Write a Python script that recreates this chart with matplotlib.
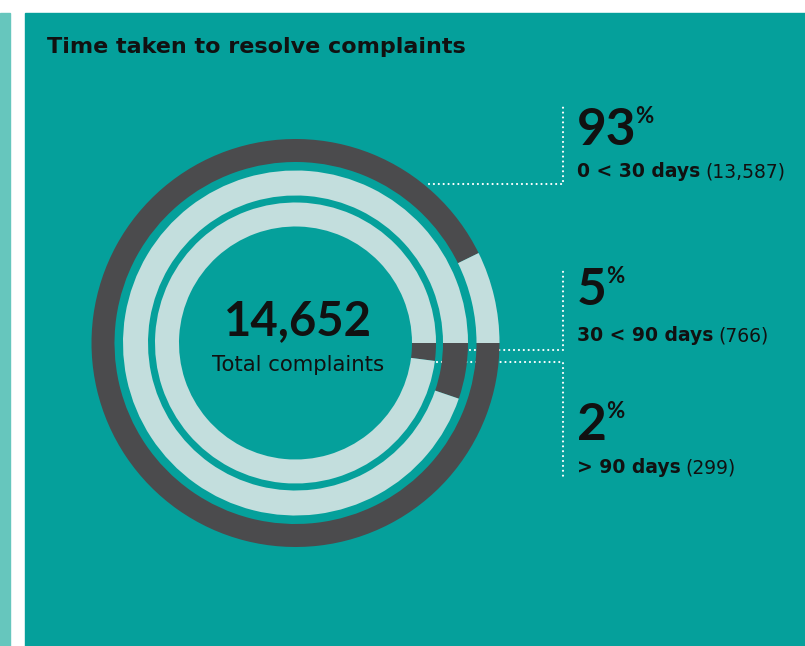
import matplotlib
matplotlib.use("Agg")
import matplotlib.pyplot as plt
from matplotlib.patches import Rectangle

# ---- data ----
title = "Time taken to resolve complaints"
categories = ["0 < 30 days", "30 < 90 days", "> 90 days"]
counts = [13587, 766, 299]
percents = ["93", "5", "2"]
total = 14652
total_label = "Total complaints"

# ---- style ----
W, H = 805, 646
TEAL = "#05a09b"
STRIP = "#66c6bd"
DARK = "#4b4b4d"
LIGHT = "#c3dedd"
TXT = "#111111"
NUMFONT = "Lato"
FONT = "DejaVu Sans"

fig = plt.figure(figsize=(W / 100, H / 100), dpi=100)
ax = fig.add_axes([0, 0, 1, 1])
ax.set_xlim(0, W)
ax.set_ylim(0, H)
ax.set_aspect("equal")
ax.axis("off")
fig.patch.set_facecolor("white")

def Y(y):
    return H - y

# background panels
ax.add_patch(Rectangle((0, 0), 9.5, Y(12.7), color=STRIP, zorder=0))
ax.add_patch(Rectangle((25, 0), W - 25, Y(12.7), color=TEAL, zorder=0))

# rings: outer = 0<30, middle = 30<90, inner = >90
cx, cy = 295.5, Y(343)
rings = [(204, 23), (172.5, 25), (140.5, 24)]
for (r, w), c in zip(rings, counts):
    wedges, _ = ax.pie([c, total - c], colors=[DARK, LIGHT], startangle=0,
                       counterclock=False, radius=r, center=(cx, cy),
                       wedgeprops=dict(width=w, linewidth=0), frame=True)
    for wd in wedges:
        wd.set_zorder(3)
ax.set_xlim(0, W)
ax.set_ylim(0, H)
ax.axis("off")

# dotted connectors (drawn beneath rings)
dot = dict(color="white", lw=1.6, linestyle=(0, (0.001, 2.2)),
           dash_capstyle="round", zorder=2)
vx = 563
ax.plot([429, vx, vx], [Y(184), Y(184), Y(103)], **dot)
ax.plot([470, vx, vx], [Y(350), Y(350), Y(267)], **dot)
ax.plot([437, vx, vx], [Y(362), Y(362), Y(476)], **dot)

fig.canvas.draw()
renderer = fig.canvas.get_renderer()

def extent(t):
    return t.get_window_extent(renderer=renderer)

def fit(t, target):
    w = extent(t).width
    t.set_fontsize(t.get_fontsize() * target / w)

# title
tt = ax.text(47, Y(53), title, fontsize=15, fontweight="bold", color=TXT,
             family=FONT, ha="left", va="baseline")
fit(tt, 419)

# centre text
ax.text(cx + 2, Y(335), f"{total:,}", fontsize=34, fontweight="bold", color=TXT,
        family=NUMFONT, ha="center", va="baseline")
tl = ax.text(cx + 3, Y(371), total_label, fontsize=13, color=TXT,
             family=FONT, ha="center", va="baseline")
fit(tl, 173)

pct_base = [145, 305, 440]
lab_base = [177, 341, 473]
tx = 577
lab_size = None
for cat, cnt, pct, pb, lb in zip(categories, counts, percents, pct_base, lab_base):
    t = ax.text(tx, Y(pb), pct, fontsize=37, fontweight="bold", color=TXT,
                family=NUMFONT, ha="left", va="baseline")
    x1 = extent(t).x1
    ax.text(x1 - 1, Y(pb - 22), "%", fontsize=16, fontweight="bold", color=TXT,
            family=NUMFONT, ha="left", va="baseline")
    t2 = ax.text(tx, Y(lb), cat, fontsize=12, fontweight="bold", color=TXT,
                 family=FONT, ha="left", va="baseline")
    t3 = ax.text(0, Y(lb), f"({cnt:,})", fontsize=12, color=TXT,
                 family=FONT, ha="left", va="baseline")
    if lab_size is None:
        # size the first line to the reference width, reuse for others
        w = extent(t2).width + 5 + extent(t3).width
        lab_size = 12 * 208 / w
    t2.set_fontsize(lab_size)
    t3.set_fontsize(lab_size)
    t3.set_x(extent(t2).x1 + 5)

fig.savefig("out.png", dpi=100, facecolor="white")
